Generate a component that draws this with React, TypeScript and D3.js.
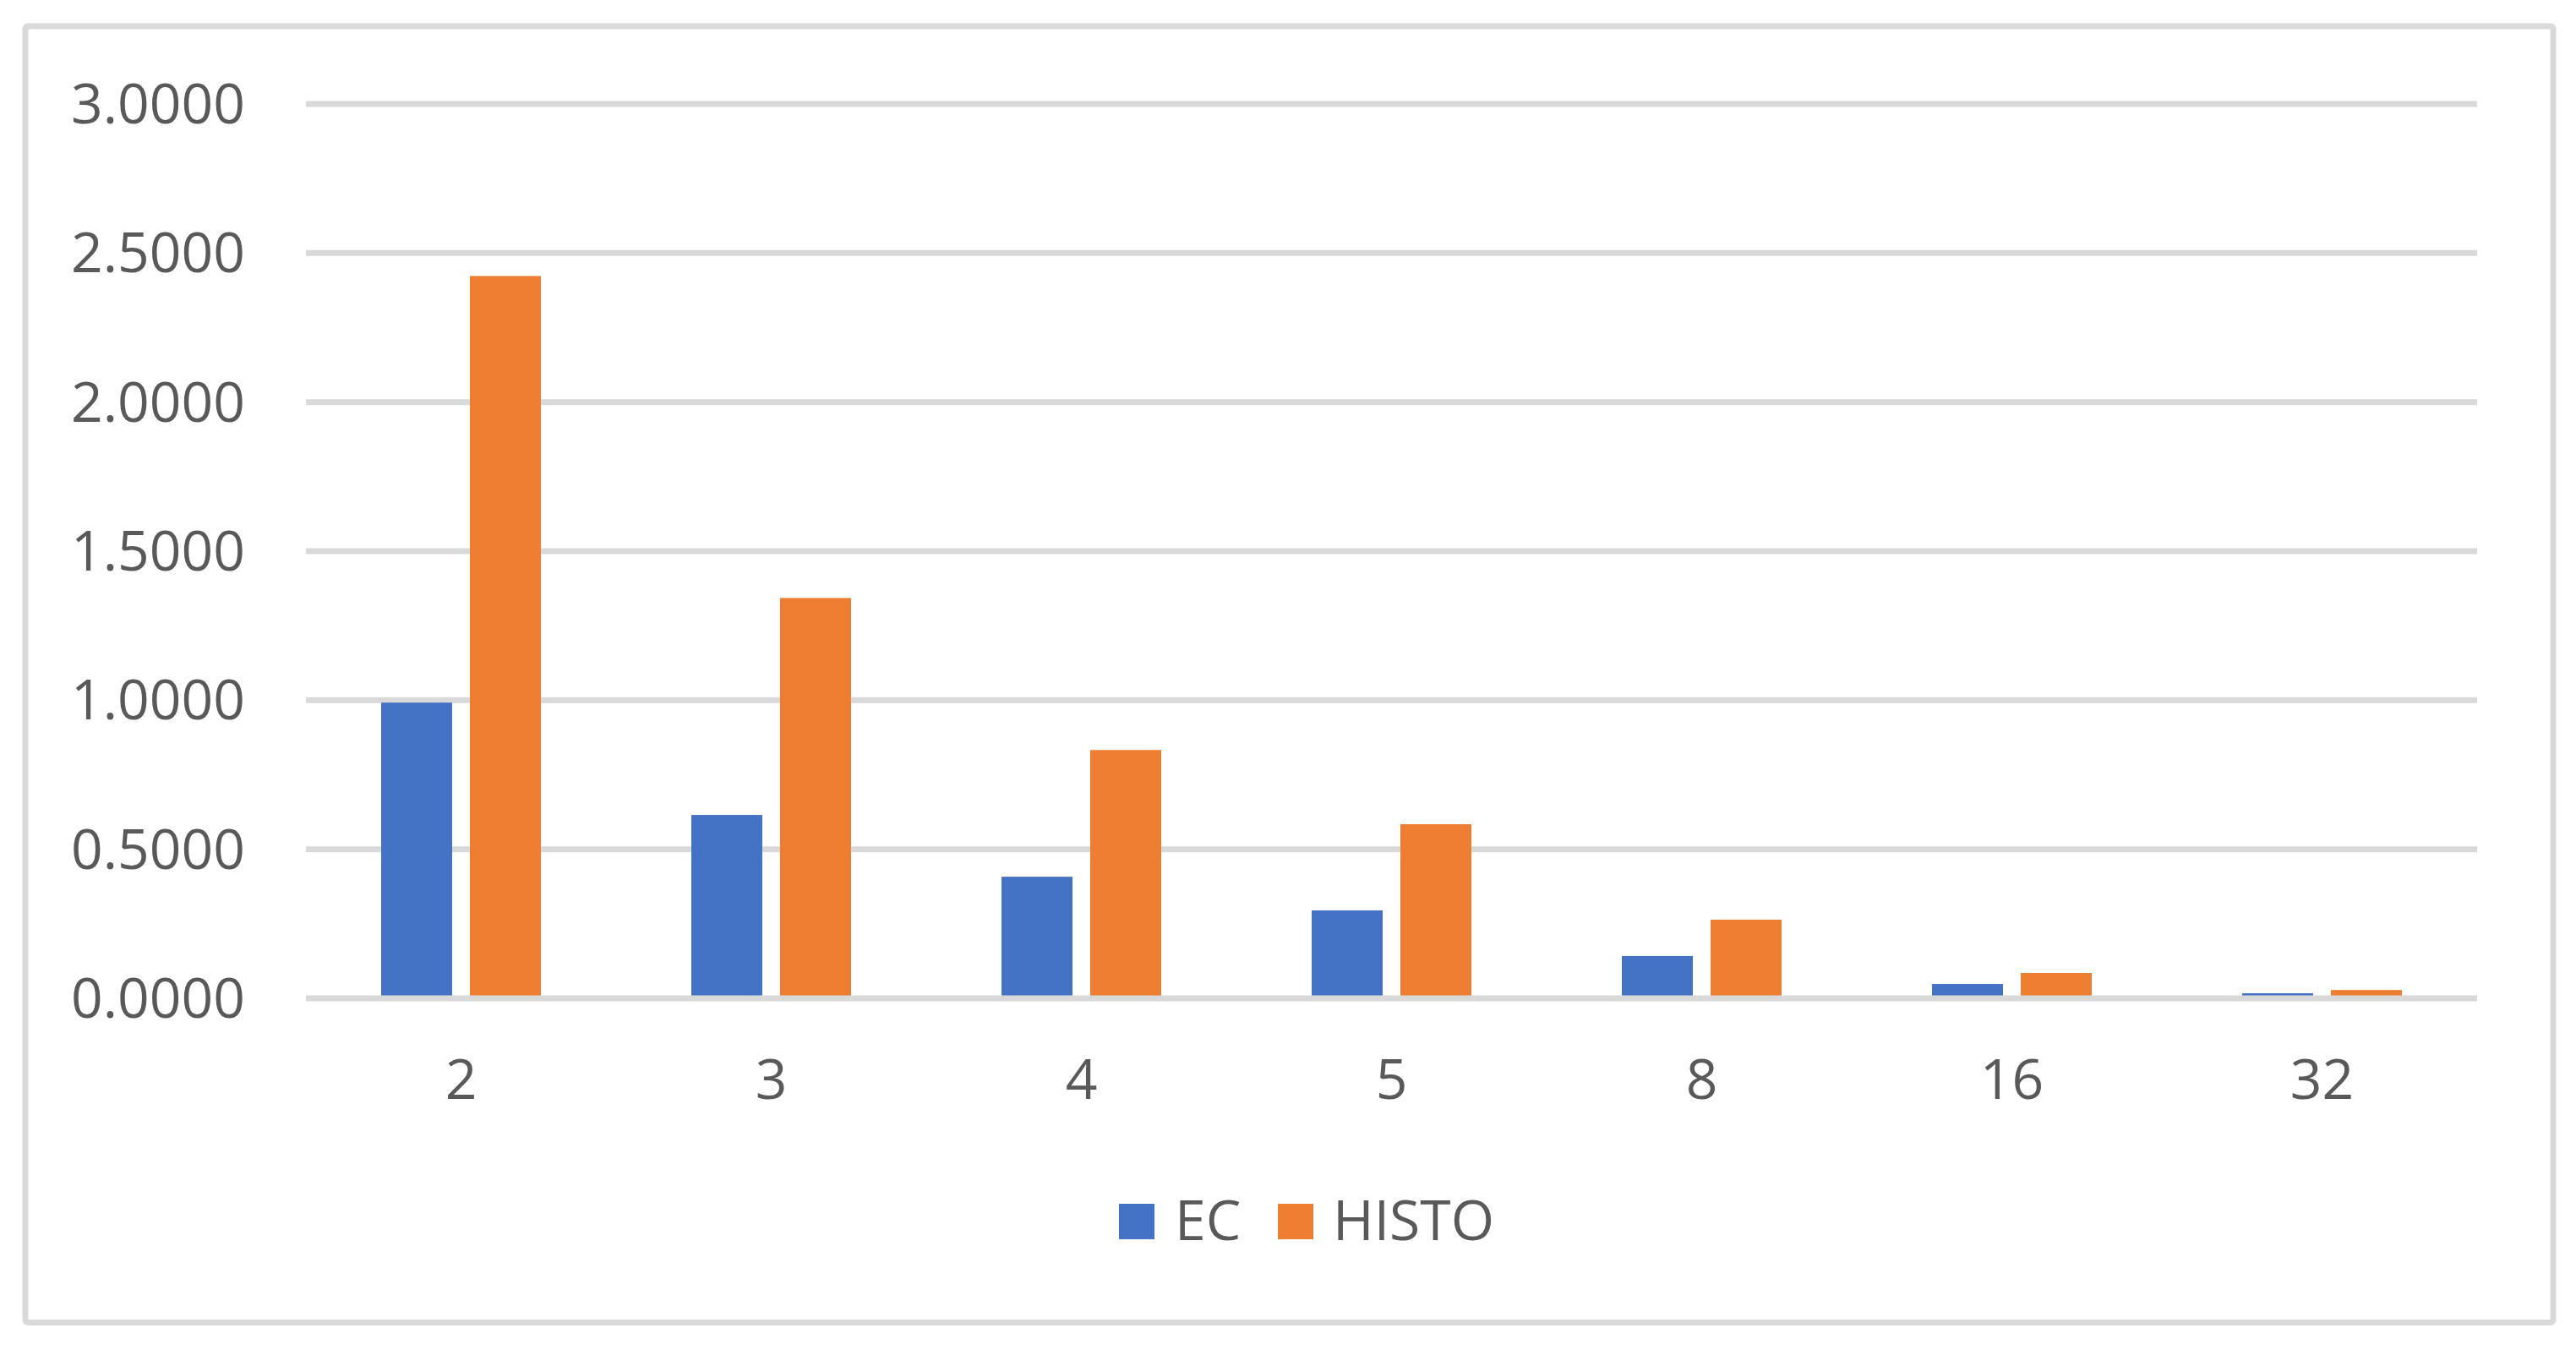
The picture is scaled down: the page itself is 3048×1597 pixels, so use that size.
import React from "react";
import * as d3 from "d3";

const categories = ["2", "3", "4", "5", "8", "16", "32"];
const seriesNames = ["EC", "HISTO"];
const ecValues = [0.992, 0.615, 0.408, 0.295, 0.142, 0.048, 0.017];
const histoValues = [2.423, 1.343, 0.833, 0.584, 0.264, 0.085, 0.028];
const yTicks = [0, 0.5, 1, 1.5, 2, 2.5, 3];
const colors = ["#4472C4", "#ED7D31"];

const W = 3048;
const H = 1597;
const FONT = "'Open Sans', 'Liberation Sans', sans-serif";
const TEXT = "#595959";
const GRID = "#D9D9D9";

export default function App() {
  const plotLeft = 362;
  const plotRight = 2931;
  const y = d3.scaleLinear().domain([0, 3]).range([1181, 123]);
  const x = d3.scaleBand<string>().domain(categories).range([plotLeft, plotRight]).padding(0);
  const bw = x.bandwidth();
  const groupW = 189;
  const inner = d3
    .scaleBand<string>()
    .domain(seriesNames)
    .range([(bw - groupW) / 2, (bw + groupW) / 2])
    .paddingInner(0.2)
    .paddingOuter(0);
  const series = [ecValues, histoValues];
  const fmt = d3.format(".4f");

  const legendItems = [
    { name: seriesNames[0], color: colors[0], sx: 1324, tx: 1390 },
    { name: seriesNames[1], color: colors[1], sx: 1512, tx: 1577 },
  ];

  return (
    <svg
      width={W}
      height={H}
      style={{ position: "absolute", left: 0, top: 0, background: "#fff" }}
      fontFamily={FONT}
    >
      <rect x={0} y={0} width={W} height={H} fill="#fff" />
      <rect
        x={30}
        y={31}
        width={3021 - 30}
        height={1564.5 - 31}
        fill="#fff"
        stroke={GRID}
        strokeWidth={7}
        rx={3}
      />
      {yTicks
        .filter((t) => t !== 0)
        .map((t) => (
          <line
            key={"g" + t}
            x1={plotLeft}
            x2={plotRight}
            y1={y(t)}
            y2={y(t)}
            stroke={GRID}
            strokeWidth={7}
          />
        ))}
      {series.map((vals, si) =>
        vals.map((v, i) => (
          <rect
            key={si + "-" + i}
            x={(x(categories[i]) as number) + (inner(seriesNames[si]) as number)}
            y={y(v)}
            width={inner.bandwidth()}
            height={y(0) - y(v)}
            fill={colors[si]}
          />
        ))
      )}
      <line x1={plotLeft} x2={plotRight} y1={y(0)} y2={y(0)} stroke={GRID} strokeWidth={7} />
      {yTicks.map((t) => (
        <text
          key={"yl" + t}
          x={290}
          y={y(t) + 23}
          textAnchor="end"
          fontSize={66}
          fill={TEXT}
        >
          {fmt(t)}
        </text>
      ))}
      {categories.map((c) => (
        <text
          key={"xl" + c}
          x={(x(c) as number) + bw / 2}
          y={1300}
          textAnchor="middle"
          fontSize={66}
          fill={TEXT}
        >
          {c}
        </text>
      ))}
      {legendItems.map((it) => (
        <g key={it.name}>
          <rect x={it.sx} y={1424} width={42} height={42} fill={it.color} />
          <text x={it.tx} y={1467} fontSize={66} fill={TEXT}>
            {it.name}
          </text>
        </g>
      ))}
    </svg>
  );
}
